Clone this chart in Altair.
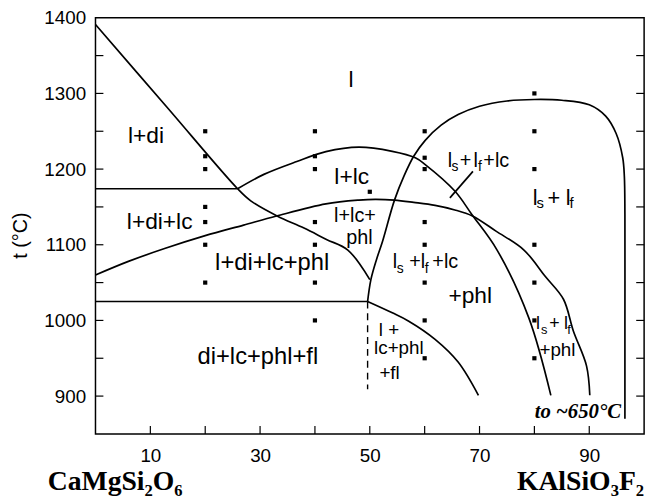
import altair as alt
import pandas as pd

# ---------------- data ----------------
# boundary curves (x = wt% KAlSiO3F2, y = t in deg C)
line1_x = [0, 13, 25.9, 28.3, 33.1, 38, 42.1, 46, 50.0]
line1_y = [1391, 1282, 1174, 1158, 1138, 1122, 1107, 1093, 1054]

upper_x = [25.9, 30.7, 36.7, 42, 48, 54.1, 58.3, 60.1, 65.5, 68.6, 73.2, 79.0, 83.0]
upper_y = [1174, 1193, 1210, 1223, 1229, 1223.5, 1215, 1206, 1171, 1140, 1093, 1003, 901]

lower_x = [0, 6, 12.6, 20, 27, 33, 42, 48, 51, 54.5, 58, 61.9, 65.5, 68.7, 73, 78.1, 82, 85.3, 87.1, 89.5, 90.1]
lower_y = [1060, 1078, 1095, 1112, 1126, 1138, 1154, 1159, 1160, 1159, 1156, 1152, 1146, 1138, 1118, 1093, 1058, 1028, 986, 940, 901]

big_x = [49.6, 50.2, 51.2, 52.3, 54.5, 56.3, 58, 60.1, 63, 66.1, 70, 75, 80, 85, 90, 93, 94.9, 96.1, 96.4, 96.5, 96.5, 96.5]
big_y = [1025, 1054, 1080, 1104, 1159, 1192, 1217, 1238, 1258, 1272, 1283, 1290, 1292, 1291, 1285, 1270, 1247, 1215, 1190, 1140, 1000, 870]

low_curve_x = [49.6, 54.1, 57.1, 61.9, 66.1, 69.8]
low_curve_y = [1025, 1010, 999, 975, 945, 901]

hline1_x = [0, 25.9]
hline1_y = [1174, 1174]
hline2_x = [0, 49.6]
hline2_y = [1025, 1025]
pointer_x = [68.8, 64.6]
pointer_y = [1197, 1162]
dashed_x = [49.6, 49.6]
dashed_y = [1025, 909]

# experimental runs
pts_x = ([20] * 7 + [40] * 7 + [50] + [60] * 8 + [80] * 7)
pts_y = ([1250, 1217, 1200, 1150, 1130, 1100, 1050] +
         [1250, 1217, 1200, 1130, 1100, 1050, 1000] +
         [1170] +
         [1250, 1215, 1200, 1130, 1100, 1050, 1000, 950] +
         [1300, 1250, 1200, 1100, 1050, 1000, 950])

# axis ticks / labels
x_label_vals = [10, 30, 50, 70, 90]
x_tick_vals = [10, 20, 30, 40, 50, 60, 70, 80, 90]
y_label_vals = [900, 1000, 1100, 1200, 1300, 1400]
y_tick_vals = [900, 950, 1000, 1050, 1100, 1150, 1200, 1250, 1300, 1350]

# field labels (centered)
lab_text = ["l", "l+di", "l+di+lc", "l+di+lc+phl", "di+lc+phl+fl", "l+lc", "l+lc+", "phl",
            "+phl", "l +", "lc+phl", "+fl", "+phl"]
lab_x = [46.6, 9.2, 11.7, 32.2, 29.6, 46.7, 47.3, 48.1, 68.3, 53.5, 55.3, 53.6, 84.2]
lab_y = [1308.5, 1234.4, 1121, 1066.7, 942.5, 1180, 1129.8, 1101.6, 1023, 979.5, 955.6, 922.9, 953.4]
lab_size = [23, 23, 23, 24, 24, 23, 20, 20, 23, 19, 19, 19, 19]

# labels with subscripts (l_s + l_f ...), as left-aligned pieces
sub_text = ["l", "s", "+", "l", "f", "+lc",
            "l", "s", "+l", "f", "+lc",
            "l", "s", "+", "l", "f",
            "l", "s", "+", "l", "f"]
sub_x = [64.2, 64.9, 66.4, 68.9, 69.7, 70.7,
         54.2, 54.9, 57.2, 60.0, 61.4,
         80.3, 81.2, 82.7, 85.4, 86.0,
         79.7, 80.4, 82.4, 85.7, 86.4]
sub_y = [1202.6, 1197.4, 1202.6, 1202.6, 1197.4, 1202.6,
         1068.9, 1062.7, 1068.9, 1062.7, 1068.9,
         988.2, 981.7, 988.2, 988.2, 981.7,
         1152.9, 1148.6, 1152.9, 1152.9, 1148.6]
sub_size = [20, 14, 20, 20, 14, 20,
            20, 14, 20, 14, 20,
            18, 13, 18, 18, 13,
            22, 15, 22, 22, 15]

# ---------------- build tables ----------------
def curve(name, xs, ys):
    return pd.DataFrame({"curve": name, "i": range(len(xs)), "x": xs, "y": ys})

smooth = pd.concat([curve("line1", line1_x, line1_y), curve("upper", upper_x, upper_y),
                    curve("lower", lower_x, lower_y), curve("big", big_x, big_y),
                    curve("low", low_curve_x, low_curve_y)])
straight = pd.concat([curve("h1", hline1_x, hline1_y), curve("h2", hline2_x, hline2_y),
                      curve("ptr", pointer_x, pointer_y)])
dashed = curve("dash", dashed_x, dashed_y)
pts = pd.DataFrame({"x": pts_x, "y": pts_y})
labels = pd.DataFrame({"t": lab_text, "x": lab_x, "y": lab_y, "s": lab_size})
subs = pd.DataFrame({"t": sub_text, "x": sub_x, "y": sub_y, "s": sub_size})

W, H = 555, 421
xs = alt.Scale(domain=[0, 100], nice=False, zero=False)
ys = alt.Scale(domain=[850, 1400], nice=False, zero=False)
SANS = "Liberation Sans"

x_axis = alt.Axis(values=x_label_vals, format="d", ticks=False, domain=False, grid=False, labelPadding=13,
                  labelFontSize=19, labelFont=SANS, labelColor="black", title=None)
y_axis = alt.Axis(values=y_label_vals, format="d", ticks=False, domain=False, grid=False, labelPadding=10,
                  labelFontSize=19, labelFont=SANS, labelColor="black", title=None)

X = lambda f="x": alt.X(f"{f}:Q", scale=xs, axis=x_axis, title=None)
Y = lambda f="y": alt.Y(f"{f}:Q", scale=ys, axis=y_axis, title=None)

smooth_l = alt.Chart(smooth).mark_line(interpolate="catmull-rom", color="black", strokeWidth=1.7).encode(
    x=X(), y=Y(), detail="curve:N", order="i:Q")
straight_l = alt.Chart(straight).mark_line(color="black", strokeWidth=1.7).encode(
    x=X(), y=Y(), detail="curve:N", order="i:Q")
dashed_l = alt.Chart(dashed).mark_line(color="black", strokeWidth=1.4, strokeDash=[7, 5]).encode(
    x=X(), y=Y(), order="i:Q")
points = alt.Chart(pts).mark_square(color="black", size=18, opacity=1).encode(x=X(), y=Y())

ytk = pd.DataFrame({"y": y_tick_vals})
xtk = pd.DataFrame({"x": x_tick_vals})
left_t = alt.Chart(ytk).mark_rule(color="black", strokeWidth=1.2).encode(
    y=Y(), x=alt.value(0), x2=alt.value(8))
right_t = alt.Chart(ytk).mark_rule(color="black", strokeWidth=1.2).encode(
    y=Y(), x=alt.value(W - 8), x2=alt.value(W))
bottom_t = alt.Chart(xtk).mark_rule(color="black", strokeWidth=1.2).encode(
    x=X(), y=alt.value(H - 8), y2=alt.value(H))

lab_l = alt.Chart(labels).mark_text(font=SANS, color="black", align="center", baseline="alphabetic").encode(
    x=X(), y=Y(), text="t:N", size=alt.Size("s:Q", scale=None))
sub_l = alt.Chart(subs).mark_text(font=SANS, color="black", align="left", baseline="alphabetic").encode(
    x=X(), y=Y(), text="t:N", size=alt.Size("s:Q", scale=None))

t_left = alt.Chart(pd.DataFrame({"t": ["CaMgSi₂O₆"], "x": [-8.7], "y": [776.5]})).mark_text(
    font="Liberation Serif", fontWeight="bold", fontSize=28, align="left", baseline="alphabetic",
    color="black").encode(x=X(), y=Y(), text="t:N")
t_right = alt.Chart(pd.DataFrame({"t": ["KAlSiO₃F₂"], "x": [100], "y": [776.5]})).mark_text(
    font="Liberation Serif", fontWeight="bold", fontSize=28, align="right", baseline="alphabetic",
    color="black").encode(x=X(), y=Y(), text="t:N")
t_650 = alt.Chart(pd.DataFrame({"t": ["to ~650°C"], "x": [95.8], "y": [870.6]})).mark_text(
    font="Liberation Serif", fontWeight="bold", fontStyle="italic", fontSize=21, align="right",
    baseline="alphabetic", color="black").encode(x=X(), y=Y(), text="t:N")
t_y = alt.Chart(pd.DataFrame({"t": ["t (°C)"], "x": [-13.5], "y": [1112]})).mark_text(
    font=SANS, fontSize=20, angle=270, align="center", baseline="middle",
    color="black").encode(x=X(), y=Y(), text="t:N")

chart = alt.layer(smooth_l, straight_l, dashed_l, points, left_t, right_t, bottom_t,
                  lab_l, sub_l, t_left, t_right, t_650, t_y).properties(
    width=W, height=H,
    autosize=alt.AutoSizeParams(type="none"),
    padding={"left": 88.5, "top": 7, "right": 10, "bottom": 66},
    background="white",
).configure_view(stroke="black", strokeWidth=1.5)

chart.save("out.html", embed_options={"renderer": "svg", "actions": False})
